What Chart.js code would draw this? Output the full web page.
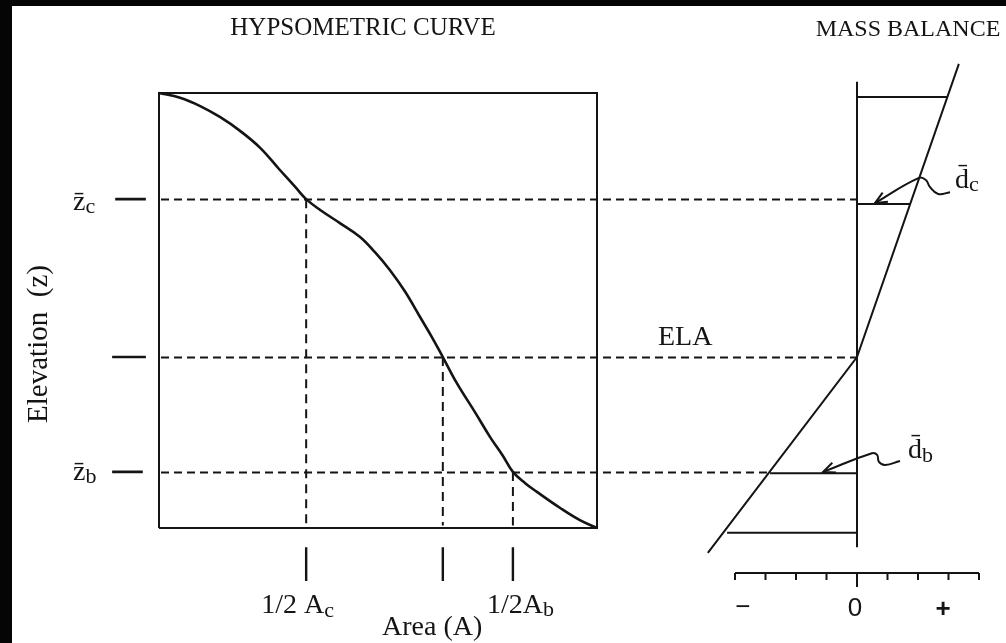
<!DOCTYPE html>
<html>
<head>
<meta charset="utf-8">
<script src="https://cdn.jsdelivr.net/npm/chart.js@4/dist/chart.umd.min.js"></script>
<style>
html,body{margin:0;padding:0;background:#fff;overflow:hidden}
#wrap{position:relative;width:1006px;height:643px}
canvas{display:block}
</style>
</head>
<body>
<div id="wrap"><canvas id="c" width="1006" height="643"></canvas></div>
<script>
// ---------- DATA ----------
// Hypsometric curve: cumulative area fraction (A) vs normalised elevation (z)
const hypsoArea = [0, 0.048, 0.094, 0.139, 0.185, 0.231, 0.276, 0.311, 0.336, 0.368, 0.413, 0.459, 0.493, 0.527, 0.562, 0.596, 0.623, 0.648, 0.680, 0.721, 0.756, 0.785, 0.808, 0.836, 0.863, 0.916, 0.961, 1];
const hypsoElev = [1, 0.989, 0.970, 0.945, 0.913, 0.874, 0.823, 0.784, 0.756, 0.731, 0.701, 0.669, 0.634, 0.593, 0.543, 0.485, 0.439, 0.393, 0.333, 0.267, 0.209, 0.166, 0.129, 0.103, 0.083, 0.046, 0.018, 0];

// Reference levels: mean accumulation elevation, ELA, mean ablation elevation
const levelNames = ['z̄c', 'ELA', 'z̄b'];
const levelElev = [0.756, 0.393, 0.129];
const levelArea = [0.336, 0.648, 0.808];
const levelBalanceEnd = [0, 0, -2.85];
const areaTickLabels = ['1/2 A|c', '', '1/2A|b'];

// Mass balance gradient (balance units vs elevation)
const balanceElev = [1.067, 0.393, -0.057];
const balanceValue = [3.34, 0, -4.89];
const barElev = [0.991, 0.745, 0.126, -0.011];
const barValue = [2.95, 1.74, -2.85, -4.26];
const balanceTicks = [-4, -3, -2, -1, 0, 1, 2, 3, 4];
const balanceTickLabels = ['−', '0', '+'];
const balanceTickLabelPos = [-3.74, 0, 2.82];

// Annotation arrows (balance units, elevation)
const arrowDcB = [3.05, 2.66, 2.39, 2.26, 2.03, 0.59];
const arrowDcZ = [0.772, 0.768, 0.784, 0.800, 0.805, 0.747];
const arrowDbB = [1.41, 0.92, 0.72, 0.66, 0.49, -1.11];
const arrowDbZ = [0.154, 0.145, 0.152, 0.168, 0.172, 0.129];

// ---------- SCALE WINDOWS ----------
const AREA_MIN = -159 / 438, AREA_MAX = AREA_MIN + 1006 / 438;
const BAL_MIN = -857 / 30.5, BAL_MAX = BAL_MIN + 1006 / 30.5;
const ELEV_MAX = 1 + 93 / 435, ELEV_MIN = ELEV_MAX - 643 / 435;

const INK = '#141414';
const SERIF = '"Liberation Serif", "DejaVu Serif", serif';
const SANS = '"Liberation Sans", "DejaVu Sans", sans-serif';

const zip = (xs, ys) => xs.map((x, i) => ({ x: x, y: ys[i] }));
function seg(list) {
  const out = [];
  list.forEach(p => { out.push({ x: p[0], y: p[1] }, { x: p[2], y: p[3] }, { x: p[2], y: null }); });
  return out;
}

const leftTicks = seg(levelElev.map((z, i) => [i === 0 ? -0.100 : -0.107, z, i === 2 ? -0.037 : -0.030, z]));
const areaTicks = seg(levelArea.map(a => [a, -0.044, a, -0.122]));
const areaGuides = seg(levelArea.map((a, i) => [a, levelElev[i], a, 0.006]));
const bars = seg(barElev.map((z, i) => [0, z, barValue[i], z]));
const balAxis = [{ x: balanceTicks[0], y: -0.1034 }, { x: balanceTicks[balanceTicks.length - 1], y: -0.1034 }, { x: 4, y: null }]
  .concat(seg(balanceTicks.map(t => [t, -0.1034, t, t === 0 ? -0.1356 : -0.1195])));

const ds = (data, xAxisID, extra) => Object.assign({
  data: data, xAxisID: xAxisID, yAxisID: 'y', showLine: true, borderColor: INK,
  borderWidth: 2, pointRadius: 0, fill: false, tension: 0, spanGaps: false
}, extra || {});

const paperPlugin = {
  id: 'paper',
  beforeDraw(chart) {
    const ctx = chart.ctx;
    ctx.save();
    ctx.fillStyle = '#ffffff';
    ctx.fillRect(0, 0, chart.width, chart.height);
    ctx.fillStyle = '#050505';
    ctx.fillRect(0, 0, chart.width, 6);
    ctx.fillRect(0, 0, 12, chart.height);
    ctx.restore();
  }
};

function subText(ctx, main, sub, x, y, size, subSize, dy) {
  ctx.font = size + 'px ' + SERIF;
  ctx.textAlign = 'left';
  ctx.fillText(main, x, y);
  const w = ctx.measureText(main).width;
  ctx.font = subSize + 'px ' + SERIF;
  ctx.fillText(sub, x + w, y + dy);
}

function arrowHead(ctx, x1, y1, x2, y2) {
  const ang = Math.atan2(y2 - y1, x2 - x1);
  const L = 13, a = 0.42;
  ctx.beginPath();
  ctx.moveTo(x2 - L * Math.cos(ang - a), y2 - L * Math.sin(ang - a));
  ctx.lineTo(x2, y2);
  ctx.lineTo(x2 - L * Math.cos(ang + a), y2 - L * Math.sin(ang + a));
  ctx.stroke();
}

const annotPlugin = {
  id: 'annot',
  afterDatasetsDraw(chart) {
    const ctx = chart.ctx;
    const xa = chart.scales.xa, xb = chart.scales.xb, y = chart.scales.y;
    ctx.save();
    ctx.strokeStyle = INK;
    ctx.fillStyle = INK;
    // horizontal dashed guides across both panels
    ctx.lineWidth = 2;
    ctx.setLineDash([8, 5]);
    levelElev.forEach((z, i) => {
      const py = Math.round(y.getPixelForValue(z)) + 0.5;
      ctx.beginPath();
      ctx.moveTo(xa.getPixelForValue(0) + 2, py);
      ctx.lineTo(xb.getPixelForValue(levelBalanceEnd[i]), py);
      ctx.stroke();
    });
    ctx.setLineDash([]);
    // arrow heads
    ctx.lineWidth = 2;
    [[arrowDcB, arrowDcZ], [arrowDbB, arrowDbZ]].forEach(([bs, zs]) => {
      const n = bs.length;
      arrowHead(ctx, xb.getPixelForValue(bs[n - 2]), y.getPixelForValue(zs[n - 2]),
        xb.getPixelForValue(bs[n - 1]), y.getPixelForValue(zs[n - 1]));
    });
    // titles
    ctx.textBaseline = 'alphabetic';
    ctx.textAlign = 'center';
    ctx.font = '25px ' + SERIF;
    ctx.fillText('HYPSOMETRIC CURVE', 363, 35);
    ctx.font = '24px ' + SERIF;
    ctx.fillText('MASS BALANCE', 908, 36);
    // y-axis title
    ctx.save();
    ctx.translate(47, 344);
    ctx.rotate(-Math.PI / 2);
    ctx.font = '29px ' + SERIF;
    ctx.textAlign = 'center';
    ctx.fillText('Elevation  (z)', 0, 0);
    ctx.restore();
    // level labels on left
    subText(ctx, 'z̄', 'c', 73, y.getPixelForValue(levelElev[0]) + 11, 28, 22, 3);
    subText(ctx, 'z̄', 'b', 73, y.getPixelForValue(levelElev[2]) + 8, 28, 22, 3);
    // ELA label
    ctx.font = '28px ' + SERIF;
    ctx.textAlign = 'left';
    ctx.fillText(levelNames[1], 658, y.getPixelForValue(levelElev[1]) - 12);
    // area tick labels
    const l0 = areaTickLabels[0].split('|'), l2 = areaTickLabels[2].split('|');
    subText(ctx, l0[0], l0[1], xa.getPixelForValue(levelArea[0]) - 45, 613, 28, 22, 4);
    subText(ctx, l2[0], l2[1], xa.getPixelForValue(levelArea[2]) - 26, 613, 28, 22, 3);
    ctx.font = '28px ' + SERIF;
    ctx.textAlign = 'left';
    ctx.fillText('Area (A)', 382, 635);
    // balance annotations
    subText(ctx, 'd̄', 'c', 955, 188, 28, 22, 3);
    subText(ctx, 'd̄', 'b', 908, 458, 28, 22, 4);
    // balance tick labels
    ctx.textAlign = 'center';
    ctx.font = '26px ' + SANS;
    ctx.fillText(balanceTickLabels[0], xb.getPixelForValue(balanceTickLabelPos[0]), 615);
    ctx.fillText(balanceTickLabels[1], xb.getPixelForValue(balanceTickLabelPos[1]) - 2, 616);
    ctx.font = 'bold 26px ' + SANS;
    ctx.fillText(balanceTickLabels[2], xb.getPixelForValue(balanceTickLabelPos[2]), 617);
    ctx.restore();
  }
};

new Chart(document.getElementById('c'), {
  type: 'scatter',
  data: {
    datasets: [
      ds(zip([0, 1, 1, 0, 0], [0, 0, 1, 1, 0]), 'xa', { borderWidth: 2 }),
      ds(zip(hypsoArea, hypsoElev), 'xa', { borderWidth: 2.6, tension: 0.4 }),
      ds(leftTicks, 'xa', { borderWidth: 2.6 }),
      ds(areaTicks, 'xa', { borderWidth: 2.4 }),
      ds(areaGuides, 'xa', { borderWidth: 2, borderDash: [9, 6] }),
      ds(zip(balanceValue, balanceElev), 'xb', { borderWidth: 2 }),
      ds(bars, 'xb', { borderWidth: 2 }),
      ds(seg([[0, 1.026, 0, -0.044]]), 'xb', { borderWidth: 2 }),
      ds(balAxis, 'xb', { borderWidth: 2 }),
      ds(zip(arrowDcB, arrowDcZ), 'xb', { borderWidth: 2, tension: 0.45 }),
      ds(zip(arrowDbB, arrowDbZ), 'xb', { borderWidth: 2, tension: 0.45 })
    ]
  },
  options: {
    responsive: false,
    animation: false,
    devicePixelRatio: 1,
    layout: { padding: 0 },
    events: [],
    plugins: { legend: { display: false }, tooltip: { enabled: false } },
    scales: {
      xa: { type: 'linear', position: 'bottom', display: false, min: AREA_MIN, max: AREA_MAX },
      xb: { type: 'linear', position: 'bottom', display: false, min: BAL_MIN, max: BAL_MAX },
      y: { type: 'linear', position: 'left', display: false, min: ELEV_MIN, max: ELEV_MAX }
    }
  },
  plugins: [paperPlugin, annotPlugin]
});
</script>
</body>
</html>
